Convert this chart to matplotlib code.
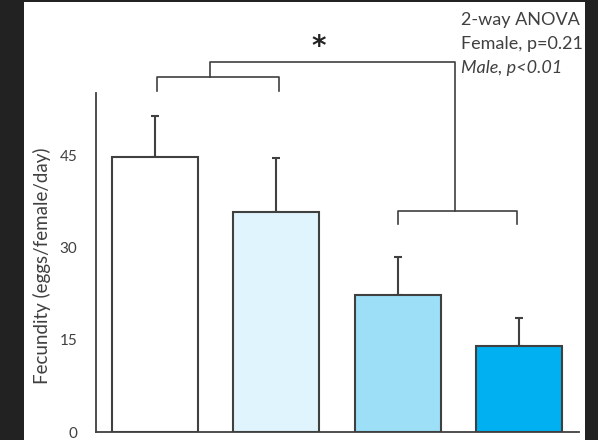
import matplotlib
matplotlib.use('Agg')
import matplotlib.pyplot as plt
from matplotlib.patches import Rectangle

plt.rcParams['font.family'] = ['Lato', 'DejaVu Sans']

# data
groups = ['G1', 'G2', 'G3', 'G4']
fecundity = [44.7, 35.8, 22.3, 13.9]
sem = [6.7, 8.8, 6.2, 4.7]
bar_colors = ['#ffffff', '#dff4fc', '#9ddff7', '#00b0f0']
y_ticks = [0, 15, 30, 45]
anova_lines = ['2-way ANOVA', 'Female, p=0.21', 'Male, p<0.01']

W, H = 598, 440
fig = plt.figure(figsize=(W / 100, H / 100), dpi=100, facecolor='#222222')
# white slide area behind the chart
fig.add_artist(Rectangle((24 / W, 0), 561 / W, 1 - 2 / H, transform=fig.transFigure,
                         facecolor='white', edgecolor='none', zorder=-5))

ax = fig.add_axes([96 / W, 8 / H, 483 / W, 339 / H])
ax.set_facecolor('none')
x = list(range(len(groups)))
edge = '#404040'
ax.bar(x, fecundity, width=0.71, color=bar_colors, edgecolor=edge, linewidth=1.5, zorder=2)
ax.errorbar(x, fecundity, yerr=[[0] * 4, sem], fmt='none', ecolor=edge,
            elinewidth=1.5, capsize=3, capthick=1.5, zorder=1)

ax.set_xlim(-0.486, 3.494)
ax.set_ylim(0, 55.1)
ax.set_yticks(y_ticks)
ax.set_yticklabels([str(t) for t in y_ticks], fontsize=11, color='#404040')
ax.tick_params(axis='y', length=0, pad=13.5)
ax.set_xticks([])
for s in ['top', 'right']:
    ax.spines[s].set_visible(False)
ax.spines['left'].set_color(edge)
ax.spines['bottom'].set_color(edge)
ax.spines['left'].set_linewidth(1.3)
ax.spines['bottom'].set_linewidth(1.3)
ax.set_ylabel('Fecundity (eggs/female/day)', fontsize=13.5, color='#404040')
ax.yaxis.set_label_coords(-0.093, 0.49)

# significance brackets
lw = 1.2
kw = dict(color=edge, lw=lw, clip_on=False)
ax.plot([0.02, 0.02, 1.02, 1.02], [55.4, 57.7, 57.7, 55.4], **kw)
ax.plot([0.45, 0.45, 2.47, 2.47], [57.7, 60.2, 60.2, 36.0], **kw)
ax.plot([2.0, 2.0, 2.98, 2.98], [33.8, 36.0, 36.0, 33.8], **kw)
ax.text(1.35, 62.6, '*', fontsize=20, fontweight='bold', ha='center', va='center',
        color='#222222', family='DejaVu Sans')

for i, line in enumerate(anova_lines):
    fig.text(461 / W, 1 - (20 + 24 * i) / H, line, fontsize=13, color='#404040',
             va='center', style='italic' if i == 2 else 'normal')

fig.savefig('out.png', dpi=100, facecolor=fig.get_facecolor())
